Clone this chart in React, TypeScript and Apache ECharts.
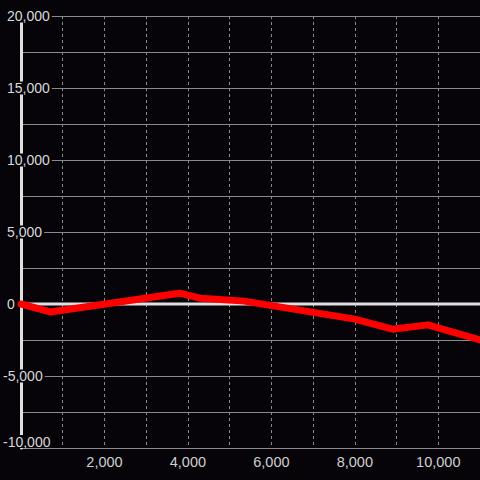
import React, { useEffect, useRef } from "react";
import * as echarts from "echarts";

const xValues = [0, 700, 3800, 4300, 5350, 8000, 8900, 9750, 11000];
const yValues = [0, -550, 750, 400, 200, -1050, -1750, -1450, -2500];
const xMin = 0;
const xMax = 11000;
const xInterval = 2000;
const yMin = -10000;
const yMax = 20000;
const yInterval = 5000;

const BG = "#060409";
const FONT = "'Liberation Sans', Arial, sans-serif";

export default function App() {
  const ref = useRef<HTMLDivElement>(null);
  useEffect(() => {
    document.body.style.margin = "0";
    const chart = echarts.init(ref.current!, undefined, { renderer: "svg" });
    const fmt = (v: number) => v.toLocaleString("en-US");
    chart.setOption({
      animation: false,
      backgroundColor: BG,
      grid: { left: 20, right: 0, top: 16, bottom: 32, containLabel: false },
      xAxis: {
        type: "value",
        min: xMin,
        max: xMax,
        interval: xInterval,
        axisLine: { show: false },
        axisTick: { show: false },
        axisLabel: {
          showMinLabel: false,
          showMaxLabel: false,
          margin: 6,
          color: "#d0d0d0",
          fontSize: 14.5,
          fontFamily: FONT,
          formatter: fmt,
        },
        splitLine: { show: true, lineStyle: { color: "#8a8a8a", width: 1, type: [3, 3] } },
        minorTick: { show: false, splitNumber: 2 },
        minorSplitLine: { show: true, lineStyle: { color: "#8a8a8a", width: 1, type: [3, 3] } },
      },
      yAxis: {
        type: "value",
        min: yMin,
        max: yMax,
        interval: yInterval,
        axisLine: { show: true, onZero: false, lineStyle: { color: "#e0e0e0", width: 3 } },
        axisTick: { show: false },
        axisLabel: {
          margin: 18,
          align: "left",
          color: "#d8d8d8",
          fontSize: 14,
          lineHeight: 13,
          fontFamily: FONT,
          backgroundColor: BG,
          padding: [0, 2, 0, 0],
          verticalAlignMinLabel: "bottom",
          formatter: (v: number) => (v < 0 ? fmt(v) : "{sp|}" + fmt(v)),
          rich: {
            sp: { width: 4, lineHeight: 13, fontSize: 14, fontFamily: FONT },
          },
        },
        splitLine: { show: true, lineStyle: { color: "#8a8a8a", width: 1 } },
        minorTick: { show: false, splitNumber: 2 },
        minorSplitLine: { show: true, lineStyle: { color: "#8a8a8a", width: 1 } },
      },
      series: [
        {
          type: "line",
          name: "zero",
          z: 1,
          data: [
            [xMin, 0],
            [xMax, 0],
          ],
          symbol: "none",
          silent: true,
          lineStyle: { color: "#e0e0e0", width: 3 },
        },
        {
          type: "line",
          name: "value",
          z: 3,
          data: xValues.map((x, i) => [x, yValues[i]]),
          symbol: "none",
          lineStyle: { color: "#ff0000", width: 7, cap: "round", join: "round" },
        },
      ],
    });
    return () => chart.dispose();
  }, []);
  return (
    <div
      ref={ref}
      style={{ position: "fixed", left: 0, top: 0, width: 480, height: 480 }}
    />
  );
}
